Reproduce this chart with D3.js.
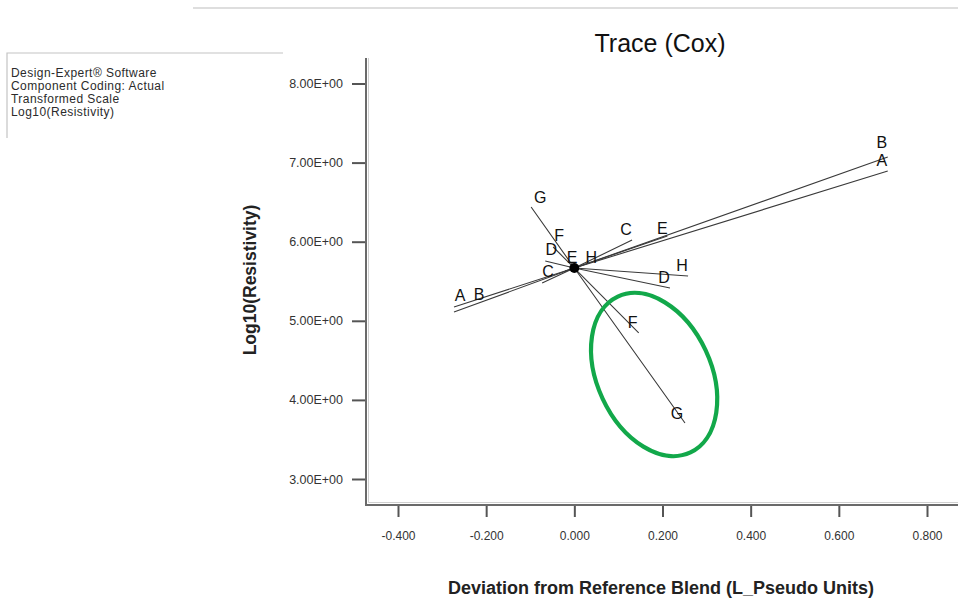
<!DOCTYPE html>
<html>
<head>
<meta charset="utf-8">
<script src="https://cdn.jsdelivr.net/npm/d3@7/dist/d3.min.js"></script>
<style>
  html, body { margin: 0; padding: 0; background: #fff; }
  svg { display: block; font-family: "Liberation Sans", Arial, sans-serif; }
</style>
</head>
<body>
<svg id="chart" width="958" height="606"></svg>
<script>
// Trace (Cox) plot: each component is moved along its Cox direction away from the reference blend.
const components = ["A", "B", "C", "D", "E", "F", "G", "H"];

// Reference blend (deviation 0) and its predicted Log10(Resistivity)
const referencePoint = [0, 5.667];

// [deviation, Log10(Resistivity)] along each trace
const traceA = [[-0.273, 5.174], [0, 5.667], [0.711, 6.894]];
const traceB = [[-0.273, 5.111], [0, 5.667], [0.711, 7.071]];
const traceC = [[-0.073, 5.478], [0, 5.667], [0.131, 6.021]];
const traceD = [[-0.066, 5.756], [0, 5.667], [0.217, 5.415]];
const traceE = [[-0.021, 5.630], [0, 5.667], [0.211, 6.072]];
const traceF = [[-0.048, 5.933], [0, 5.667], [0.146, 4.846]];
const traceG = [[-0.098, 6.439], [0, 5.667], [0.251, 3.708]];
const traceH = [[0, 5.667], [0.258, 5.566]];
const traces = [traceA, traceB, traceC, traceD, traceE, traceF, traceG, traceH];

// Axis ticks
const xTicks = [-0.4, -0.2, 0.0, 0.2, 0.4, 0.6, 0.8];
const yTicks = [3, 4, 5, 6, 7, 8];

// Highlight ring around the F / G responses: centre and semi-axes in data units
const highlightCenter = [0.181, 4.321];
const highlightRadii = [0.129, 1.087]; // [minor (x units), major (y units)]
const highlightTilt = -25;

const infoLines = [
  "Design-Expert\u00AE Software",
  "Component Coding: Actual",
  "Transformed Scale",
  "Log10(Resistivity)"
];

const svg = d3.select("#chart");

const x = d3.scaleLinear().domain([-0.4, 0.8]).range([398, 927]);
const y = d3.scaleLinear().domain([3, 8]).range([479, 83.5]);

const frame = { left: 366, right: 960, top: 58, bottom: 505 };

// page decorations: separator and info box
svg.append("line")
  .attr("x1", 193).attr("x2", 958).attr("y1", 8).attr("y2", 8)
  .attr("stroke", "#bdbdbd").attr("stroke-width", 1.2);
svg.append("path")
  .attr("d", "M7,138 L7,53 L283,53")
  .attr("fill", "none").attr("stroke", "#c4c4c4").attr("stroke-width", 1.2);
svg.append("g").selectAll("text").data(infoLines).join("text")
  .attr("x", 11).attr("y", (d, i) => 77 + i * 13)
  .attr("font-size", 12).attr("letter-spacing", 0.45).attr("fill", "#2b2b2b")
  .text(d => d);

// title
svg.append("text")
  .attr("x", 660).attr("y", 52)
  .attr("text-anchor", "middle").attr("font-size", 25).attr("fill", "#111")
  .text("Trace (Cox)");

// axes
const xAxis = d3.axisBottom(x).tickValues(xTicks).tickSize(12).tickSizeOuter(0)
  .tickFormat(d => d.toFixed(3));
const gx = svg.append("g").attr("transform", `translate(0,${frame.bottom})`).call(xAxis);
gx.select(".domain").remove();
gx.selectAll(".tick line").attr("stroke", "#555").attr("stroke-width", 2);
gx.selectAll(".tick text").attr("font-size", 12).attr("fill", "#333")
  .attr("font-family", "'Liberation Sans', Arial, sans-serif")
  .attr("y", 26).attr("dy", "0.71em");

const yAxis = d3.axisLeft(y).tickValues(yTicks).tickSize(14).tickSizeOuter(0)
  .tickFormat(d => d.toFixed(2) + "E+00");
const gy = svg.append("g").attr("transform", `translate(${frame.left},0)`).call(yAxis);
gy.select(".domain").remove();
gy.selectAll(".tick line").attr("stroke", "#555").attr("stroke-width", 2);
gy.selectAll(".tick text").attr("font-size", 12.5).attr("fill", "#333")
  .attr("font-family", "'Liberation Sans', Arial, sans-serif")
  .attr("x", -23);

// plot frame (left and bottom edges with a light inner rule)
svg.append("path")
  .attr("d", `M${frame.left + 2.5},${frame.top} L${frame.left + 2.5},${frame.bottom - 2.5} L${frame.right},${frame.bottom - 2.5}`)
  .attr("fill", "none").attr("stroke", "#d0d0d0").attr("stroke-width", 1);
svg.append("path")
  .attr("d", `M${frame.left},${frame.top} L${frame.left},${frame.bottom} L${frame.right},${frame.bottom}`)
  .attr("fill", "none").attr("stroke", "#6a6a6a").attr("stroke-width", 2);

// axis titles
svg.append("text")
  .attr("transform", "translate(256,280) rotate(-90)")
  .attr("text-anchor", "middle").attr("font-size", 17.5).attr("font-weight", "bold").attr("fill", "#222")
  .text("Log10(Resistivity)");
svg.append("text")
  .attr("x", 661).attr("y", 594)
  .attr("text-anchor", "middle").attr("font-size", 18).attr("font-weight", "bold").attr("fill", "#222")
  .text("Deviation from Reference Blend (L_Pseudo Units)");

// trace lines
const line = d3.line().x(d => x(d[0])).y(d => y(d[1]));
svg.append("g").selectAll("path").data(traces).join("path")
  .attr("d", line)
  .attr("fill", "none").attr("stroke", "#3a3a3a").attr("stroke-width", 1.1);

// reference blend marker
svg.append("circle")
  .attr("cx", x(referencePoint[0])).attr("cy", y(referencePoint[1])).attr("r", 5)
  .attr("fill", "#000");

// component labels near each end of its trace
const defaultOffsets = { start: [6, -12], end: [-6, -11] };
const offsetOverrides = {
  B: { start: [25, -18], end: [-6, -15] },
  E: { start: [7, -14], end: [-5, -8] },
  G: { start: [9, -10], end: [-8, -10] },
  H: { start: [17, -11] }
};
const labels = [];
components.forEach((c, i) => {
  const pts = traces[i];
  const o = Object.assign({}, defaultOffsets, offsetOverrides[c] || {});
  const s = pts[0], e = pts[pts.length - 1];
  labels.push({ text: c, px: x(s[0]) + o.start[0], py: y(s[1]) + o.start[1] });
  labels.push({ text: c, px: x(e[0]) + o.end[0], py: y(e[1]) + o.end[1] });
});
svg.append("g").selectAll("text").data(labels).join("text")
  .attr("x", d => d.px).attr("y", d => d.py).attr("dy", "0.36em")
  .attr("text-anchor", "middle").attr("font-size", 16).attr("fill", "#111")
  .text(d => d.text);

// highlight ring
const hcx = x(highlightCenter[0]), hcy = y(highlightCenter[1]);
svg.append("ellipse")
  .attr("cx", hcx).attr("cy", hcy)
  .attr("rx", x(highlightCenter[0] + highlightRadii[0]) - hcx)
  .attr("ry", hcy - y(highlightCenter[1] + highlightRadii[1]))
  .attr("transform", `rotate(${highlightTilt},${hcx},${hcy})`)
  .attr("fill", "none").attr("stroke", "#12a84a").attr("stroke-width", 4.2);
</script>
</body>
</html>
